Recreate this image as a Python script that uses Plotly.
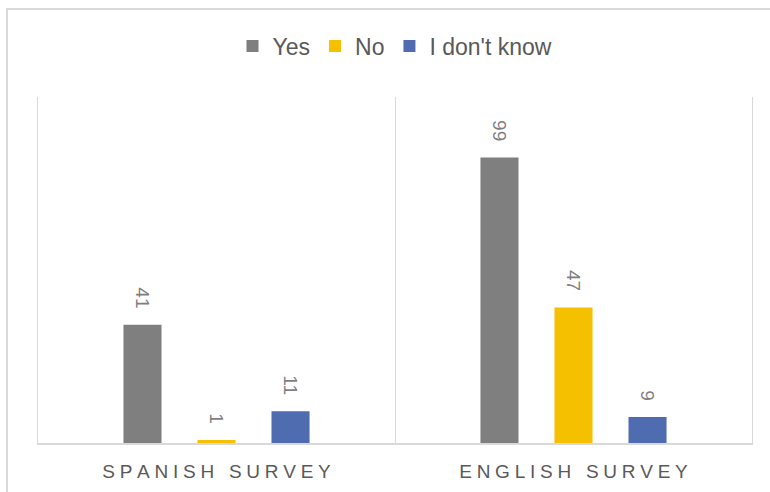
import plotly.graph_objects as go

# Survey responses per questionnaire language
categories = ["SPANISH SURVEY", "ENGLISH SURVEY"]
series_names = ["Yes", "No", "I don't know"]
yes_counts = [41, 99]
no_counts = [1, 47]
dont_know_counts = [11, 9]

colors = ["#7f7f7f", "#f5c000", "#4f6cb0"]
FONT = "Liberation Sans, Arial, sans-serif"


def spaced(label):
    # widen letter spacing of the category labels
    return "\u2005".join(label)


fig = go.Figure()
for name, values, color in zip(series_names, [yes_counts, no_counts, dont_know_counts], colors):
    fig.add_trace(go.Bar(
        name=name,
        x=categories,
        y=values,
        marker=dict(color=color, line=dict(width=0)),
        texttemplate="%{y}\u2002\u2009",
        textposition="outside",
        textangle=90,
        textfont=dict(family=FONT, size=19, color="#7f7f7f"),
        cliponaxis=False,
    ))

W, H = 770, 492
L, R, T, B = 38, 18, 97, 49
pw, ph = W - L - R, H - T - B


def px_x(x):
    return (x - L) / pw


def px_y(y):
    return (H - B - y) / ph


fig.update_layout(
    width=W, height=H,
    margin=dict(l=L, r=R, t=T, b=B, autoexpand=False),
    paper_bgcolor="white",
    plot_bgcolor="white",
    barmode="group",
    bargap=0.378,
    bargroupgap=0.486,
    showlegend=True,
    legend=dict(
        orientation="h",
        x=0.5, xanchor="center",
        y=px_y(46), yanchor="middle",
        font=dict(family=FONT, size=23, color="#595959"),
        itemwidth=30,
        traceorder="normal",
    ),
    xaxis=dict(
        tickmode="array",
        tickvals=categories,
        ticktext=[spaced(c) for c in categories],
        tickfont=dict(family=FONT, size=19, color="#595959"),
        tickson="boundaries",
        ticks="",
        showgrid=True,
        gridcolor="#d9d9d9",
        gridwidth=1,
        showline=True,
        linecolor="#d9d9d9",
        linewidth=2,
        ticklabelstandoff=10,
        automargin=False,
        range=[-0.5, 1.5],
    ),
    yaxis=dict(
        range=[0, 120],
        showticklabels=False,
        ticks="",
        showgrid=False,
        zeroline=False,
        showline=True,
        mirror=True,
        linecolor="#d9d9d9",
        linewidth=1,
        automargin=False,
    ),
    shapes=[dict(
        type="rect", xref="paper", yref="paper",
        x0=px_x(7), x1=px_x(800), y0=px_y(520), y1=px_y(9),
        line=dict(color="#d9d9d9", width=2),
        fillcolor="rgba(0,0,0,0)",
        layer="below",
    )],
)

fig.write_html("out.html")
